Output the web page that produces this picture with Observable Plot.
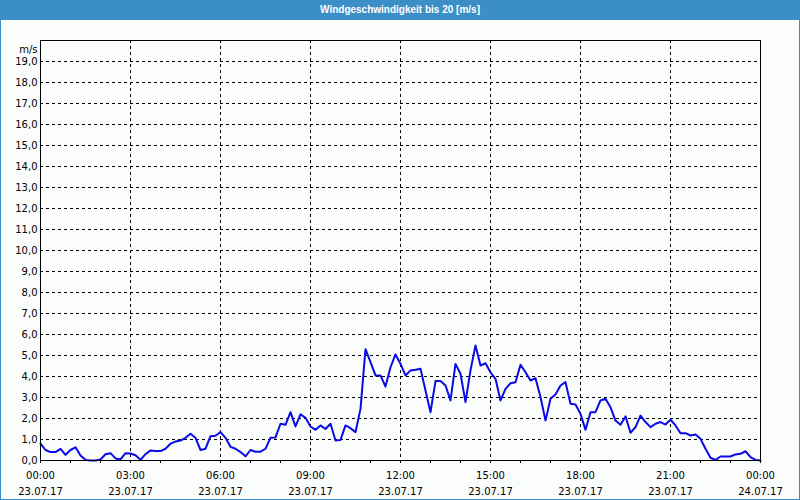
<!DOCTYPE html>
<html><head><meta charset="utf-8">
<script src="https://cdn.jsdelivr.net/npm/d3@7"></script>
<script src="https://cdn.jsdelivr.net/npm/@observablehq/plot@0.6"></script>
<style>
html,body{margin:0;padding:0;background:#fff;}
#frame{position:relative;width:800px;height:500px;box-sizing:border-box;border:1px solid #3c8fc6;border-top:none;background:#fbfdfd;overflow:hidden}
#title{height:20px;background:#3c8fc6;color:#fff;font:bold 10px "Liberation Sans";text-align:center;line-height:20px;margin:0 -1px;}
#chart svg{display:block}
</style></head>
<body><div id="frame"><div id="title"></div><div id="chart"></div></div>
<script>
const title = "Windgeschwindigkeit bis 20 [m/s]";
const unit = "m/s";
const startTime = "2017-07-23T00:00:00Z";
const endTime = "2017-07-24T00:00:00Z";
const stepMinutes = 10;
// wind speed (m/s), one reading every 10 minutes from 00:00 to 24:00
const speed = [
  0.8, 0.5, 0.4, 0.4, 0.55, 0.27,
  0.5, 0.63, 0.24, 0.03, 0, 0,
  0.05, 0.3, 0.35, 0.1, 0.05, 0.35,
  0.33, 0.25, 0.03, 0.3, 0.48, 0.45,
  0.45, 0.56, 0.8, 0.9, 0.95, 1.08,
  1.27, 1.08, 0.5, 0.56, 1.16, 1.18,
  1.35, 1.08, 0.65, 0.56, 0.4, 0.2,
  0.5, 0.42, 0.42, 0.56, 1.08, 1.1,
  1.75, 1.7, 2.3, 1.62, 2.2, 2.03,
  1.62, 1.46, 1.67, 1.5, 1.75, 0.95,
  0.98, 1.67, 1.54, 1.35, 2.46, 5.3,
  4.68, 4.05, 4.05, 3.52, 4.44, 5.05,
  4.6, 4.05, 4.29, 4.32, 4.37, 3.33,
  2.3, 3.78, 3.78, 3.57, 2.86, 4.6,
  4.13, 2.78, 4.29, 5.48, 4.52, 4.63,
  4.2, 3.89, 2.86, 3.41, 3.68, 3.73,
  4.56, 4.2, 3.81, 3.92, 3.02, 1.9,
  2.94, 3.14, 3.57, 3.73, 2.7, 2.67,
  2.22, 1.46, 2.3, 2.3, 2.86, 2.94,
  2.54, 1.9, 1.7, 2.1, 1.32, 1.59,
  2.14, 1.83, 1.59, 1.75, 1.83, 1.71,
  1.94, 1.67, 1.3, 1.3, 1.19, 1.24,
  1.03, 0.56, 0.13, 0.03, 0.19, 0.19,
  0.19, 0.29, 0.32, 0.44, 0.16, 0.03,
  0
];
const yTicks = [0,1,2,3,4,5,6,7,8,9,10,11,12,13,14,15,16,17,18,19];
const yGrid = [1,2,3,4,5,6,7,8,9,10,11,12,13,14,15,16,17,18,19];
const xLabelHours = [0,3,6,9,12,15,18,21,24];
const xGridHours = [3,6,9,12,15,18,21];
const xMinorHours = [0,1,2,3,4,5,6,7,8,9,10,11,12,13,14,15,16,17,18,19,20,21,22,23,24];

document.getElementById("title").textContent = title;

const t0 = new Date(startTime);
const t1 = new Date(endTime);
const atHour = h => new Date(+t0 + h * 3600000);
const data = speed.map((v, i) => ({t: new Date(+t0 + i * stepMinutes * 60000), v}));
const pad = n => String(n).padStart(2, "0");
const fmtX = d => `${pad(d.getUTCHours())}:${pad(d.getUTCMinutes())}\n${pad(d.getUTCDate())}.${pad(d.getUTCMonth()+1)}.${pad(d.getUTCFullYear()%100)}`;

const chart = Plot.plot({
  width: 798, height: 479,
  marginLeft: 39, marginRight: 39, marginTop: 20, marginBottom: 39,
  style: {fontFamily: "DejaVu Sans", fontSize: "10px", background: "transparent", color: "#000", overflow: "visible"},
  x: {type: "utc", domain: [t0, t1]},
  y: {domain: [0, 20]},
  marks: [
    Plot.gridX(xGridHours.map(atHour), {stroke: "#000", strokeOpacity: 1, strokeDasharray: "3,3"}),
    Plot.gridY(yGrid, {stroke: "#000", strokeOpacity: 1, strokeDasharray: "3,3"}),
    Plot.axisX(xMinorHours.map(atHour), {tickSize: 3, tickFormat: () => "", label: null, stroke: "#000"}),
    Plot.axisX(xLabelHours.map(atHour), {tickSize: 0, tickPadding: 7, tickFormat: fmtX, lineHeight: 1.6, label: null, fill: "#000"}),
    Plot.axisY(yTicks, {tickSize: 0, tickPadding: 3, tickFormat: d => d.toFixed(1).replace(".", ","), label: null, fill: "#000"}),
    Plot.text([unit], {frameAnchor: "top-left", dx: -3, dy: 5, textAnchor: "end", fill: "#000"}),
    Plot.line(data, {x: "t", y: "v", stroke: "#0a0ae6", strokeWidth: 2}),
    Plot.frame({stroke: "#000"})
  ]
});
document.getElementById("chart").appendChild(chart);
</script>
</body></html>
